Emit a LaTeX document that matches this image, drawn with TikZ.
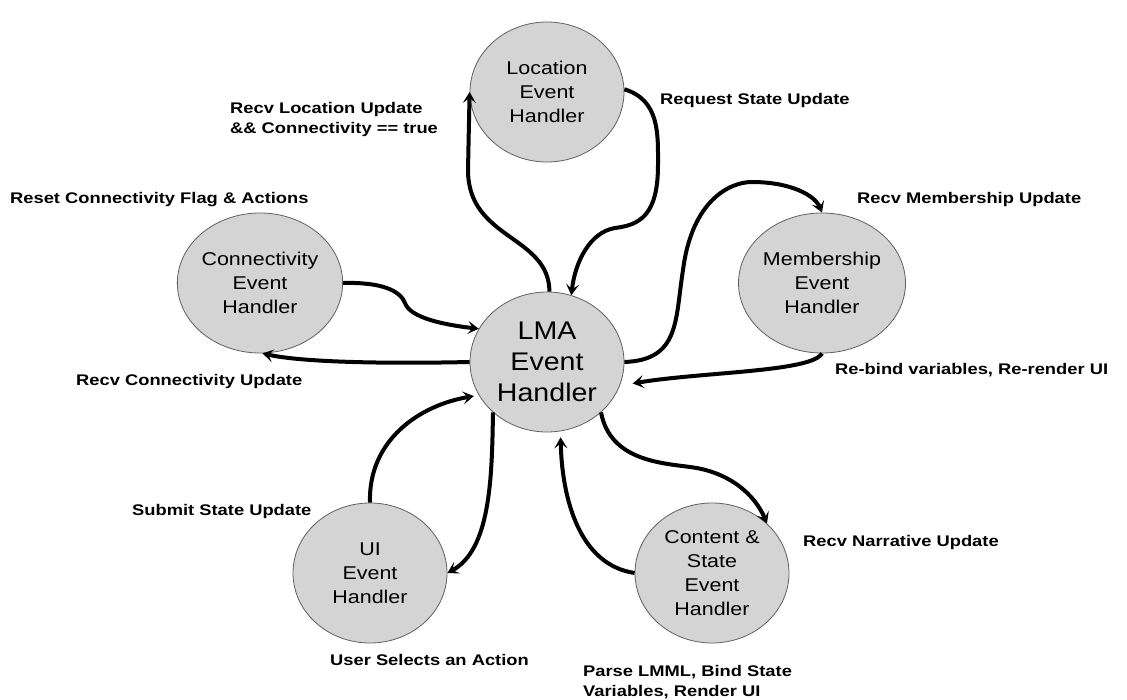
\documentclass[tikz,border=0pt]{standalone}
\usepackage{fontspec}
\usetikzlibrary{shapes.geometric,arrows.meta}
\newfontfamily\handlerfont[FakeStretch=1.16]{Liberation Sans}
\newfontfamily\hubfont[FakeStretch=1.12]{Liberation Sans}
\newfontfamily\notefont[FakeStretch=1.19]{Liberation Sans}
\definecolor{handlerfill}{RGB}{212,212,212}
\definecolor{handlerrim}{RGB}{96,96,96}
\begin{document}
\begin{tikzpicture}[x=1pt,y=-1pt,
  handler/.style={ellipse, minimum width=154pt, minimum height=140pt, inner sep=0pt,
    fill=handlerfill, draw=handlerrim, line width=0.8pt, align=center,
    font=\handlerfont\fontsize{18.5}{24}\selectfont},
  hub/.style={handler, font=\hubfont\fontsize{25.5}{30.7}\selectfont},
  note/.style={anchor=base west, inner sep=0pt, align=left,
    font=\notefont\bfseries\fontsize{15.4}{20}\selectfont},
  flow/.style={line width=4pt, draw=black, line cap=butt,
    -{Stealth[length=11pt,width=13pt,inset=5pt]}}
]
\useasboundingbox (0,0) rectangle (1127,700);

% event handlers
\node[hub]     (lma)  at (547,362) {LMA\\Event\\Handler};
\node[handler] (loc)  at (547,92)  {Location\\Event\\Handler};
\node[handler] (conn) at (260,283) {Connectivity\\Event\\Handler};
\node[handler] (memb) at (822,283) {Membership\\Event\\Handler};
\node[handler] (ui)   at (370,573) {UI\\Event\\Handler};
\node[handler] (cont) at (712,573) {Content \&\\State\\Event\\Handler};

% transition labels (base anchor sits on the last line)
\node[note] (lLoc)   at (230,134) {Recv Location Update\\\&\& Connectivity == true};
\node[note] (lReq)   at (660,105) {Request State Update};
\node[note] (lReset) at (10,204)  {Reset Connectivity Flag \& Actions};
\node[note] (lRconn) at (76,385)  {Recv Connectivity Update};
\node[note] (lRmemb) at (857,204) {Recv Membership Update};
\node[note] (lBind)  at (835,375) {Re-bind variables, Re-render UI};
\node[note] (lSub)   at (132,515) {Submit State Update};
\node[note] (lUser)  at (330,665) {User Selects an Action};
\node[note] (lNarr)  at (803,546) {Recv Narrative Update};
\node[note] (lParse) at (583,696) {Parse LMML, Bind State\\Variables, Render UI};

% transitions
\draw[flow] (lma.88) .. controls (549,235) and (468,240) .. (468,170) -- (loc.180);
\draw[flow] (loc.2) .. controls (660,100) and (658,135) .. (658,165)
  .. controls (658,215) and (640,225) .. (615,228)
  .. controls (590,232) and (575,262) .. (lma.70);
\draw[flow] (conn.0) .. controls (380,282) and (400,290) .. (405,303)
  .. controls (410,318) and (445,325) .. (lma.154);
\draw[flow] (lma.180) .. controls (380,364) and (300,362) .. (conn.-88);
\draw[flow] (lma.0) .. controls (680,360) and (675,320) .. (683,270)
  .. controls (692,200) and (730,182) .. (752,182)
  .. controls (790,182) and (815,195) .. (memb.90);
\draw[flow, shorten >=13pt] (memb.-90) .. controls (812,372) and (700,372) .. (lma.-18);
\draw[flow] (lma.-43) .. controls (610,460) and (660,463) .. (690,467)
  .. controls (730,472) and (755,495) .. (cont.42);
\draw[flow, shorten >=6pt] (cont.180) .. controls (580,565) and (562,500) .. (lma.-79);
\draw[flow, shorten >=5pt] (ui.90) .. controls (368,440) and (420,405) .. (lma.206);
\draw[flow] (lma.223) .. controls (492,480) and (490,550) .. (ui.0);
\end{tikzpicture}
\end{document}
